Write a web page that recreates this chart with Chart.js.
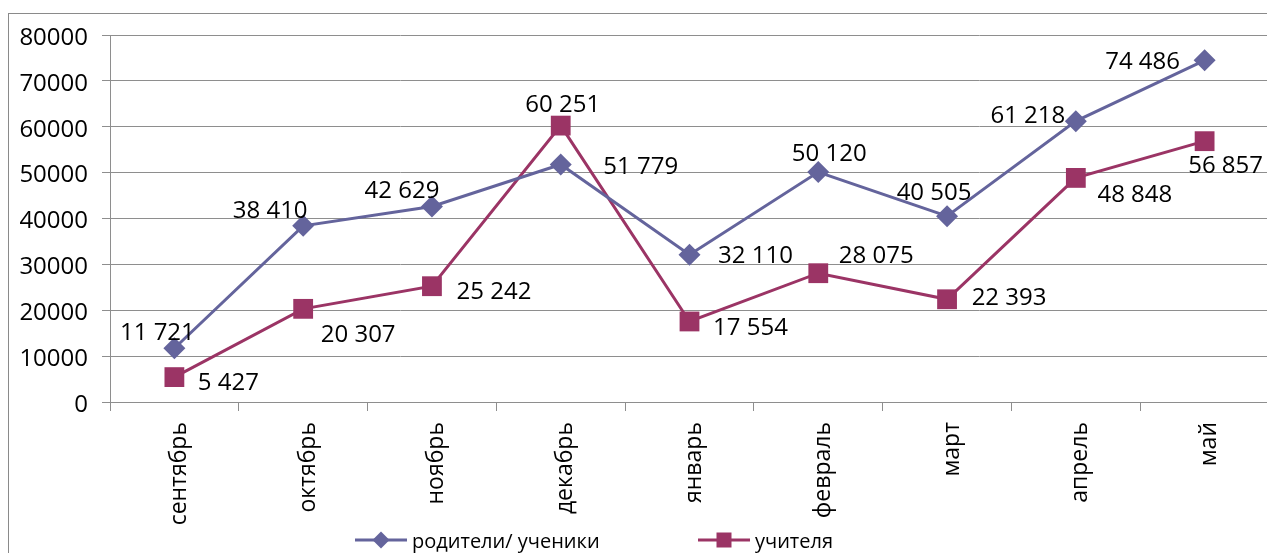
<!DOCTYPE html>
<html>
<head>
<meta charset="utf-8">
<script src="https://cdn.jsdelivr.net/npm/chart.js@4.4.1/dist/chart.umd.min.js"></script>
<style>
  html, body { margin: 0; padding: 0; background: #fff; overflow: hidden; width: 1267px; height: 553px; }
  #frame { position: absolute; left: 8px; top: 13px; width: 1400px; height: 700px; border-left: 1px solid #8a8a8a; border-top: 1px solid #8a8a8a; }
  #wrap { position: absolute; left: 0; top: 0; width: 1290px; height: 553px; }
  .leg { position: absolute; top: 526px; height: 28px; display: flex; align-items: center; font-family: "Open Sans", sans-serif; font-size: 20px; color: #000; white-space: nowrap; }
  .leg svg { margin-right: 5px; }
</style>
</head>
<body>
<div id="frame"></div>
<div id="wrap"><canvas id="c" width="1290" height="553" style="width:1290px;height:553px"></canvas></div>
<div class="leg" id="leg1" style="left:355px"></div>
<div class="leg" id="leg2" style="left:698px"></div>
<script>
const categories = ['сентябрь','октябрь','ноябрь','декабрь','январь','февраль','март','апрель','май'];
const parentsStudents = [11721, 38410, 42629, 51779, 32110, 50120, 40505, 61218, 74486];
const teachers = [5427, 20307, 25242, 60251, 17554, 28075, 22393, 48848, 56857];
const seriesNames = ['родители/ ученики', 'учителя'];
const yTicks = [0, 10000, 20000, 30000, 40000, 50000, 60000, 70000, 80000];

// label offsets (px) relative to each point
const labelOffsets1 = [[-17,-17],[-33,-17],[-30,-17],[80,1],[66,-1],[11,-20],[-13,-25],[-48,-7],[-62,0]];
const labelOffsets2 = [[54,4],[55,24],[62,4],[2,-22],[61,5],[58,-19],[62,-3],[59,15],[21,23]];

const C1 = '#64649c';
const C2 = '#9b3465';
const GRID = '#8e8e8e';
const FONT = '"Open Sans", sans-serif';

function fmt(v){ return String(v).replace(/\B(?=(\d{3})+(?!\d))/g, ' '); }

const dataLabels = {
  id: 'dataLabels',
  afterDatasetsDraw(chart) {
    const ctx = chart.ctx;
    const offs = [labelOffsets1, labelOffsets2];
    ctx.save();
    ctx.font = '24px ' + FONT;
    ctx.fillStyle = '#000';
    ctx.textAlign = 'center';
    ctx.textBaseline = 'middle';
    chart.data.datasets.forEach((ds, i) => {
      const meta = chart.getDatasetMeta(i);
      meta.data.forEach((pt, j) => {
        const o = offs[i][j];
        ctx.fillText(fmt(ds.data[j]), pt.x + o[0], pt.y + o[1] + 2);
      });
    });
    ctx.restore();
  }
};

new Chart(document.getElementById('c'), {
  type: 'line',
  data: {
    labels: categories,
    datasets: [
      { label: seriesNames[0], data: parentsStudents, borderColor: C1, backgroundColor: C1,
        borderWidth: 3, pointStyle: 'rectRot', pointRadius: 11, pointBorderWidth: 0, tension: 0 },
      { label: seriesNames[1], data: teachers, borderColor: C2, backgroundColor: C2,
        borderWidth: 3, pointStyle: 'rect', pointRadius: 14, pointBorderWidth: 0, tension: 0 }
    ]
  },
  options: {
    responsive: false,
    devicePixelRatio: 1,
    animation: false,
    events: [],
    layout: { padding: { top: 35, right: 21, bottom: 0, left: 0 } },
    plugins: { legend: { display: false }, tooltip: { enabled: false } },
    scales: {
      x: {
        offset: true,
        grid: { offset: true, drawOnChartArea: false, drawTicks: true, tickLength: 9, color: GRID, tickColor: GRID },
        border: { display: true, color: GRID, width: 1 },
        ticks: { autoSkip: false, minRotation: 90, maxRotation: 90, padding: 11, labelOffset: 5,
                 color: '#000', font: { family: FONT, size: 23 } },
        afterFit(s) { s.height = 151; }
      },
      y: {
        min: 0, max: 80000,
        afterBuildTicks(s) { s.ticks = yTicks.map(v => ({ value: v })); },
        grid: { color: GRID, tickLength: 8, tickColor: GRID, lineWidth: 1 },
        border: { display: true, color: GRID, width: 1 },
        ticks: { padding: 14, labelOffset: 3, color: '#000', font: { family: FONT, size: 24 },
                 callback: v => String(v) },
        afterFit(s) { s.width = 110; }
      }
    }
  },
  plugins: [dataLabels]
});

function legendItem(el, color, marker, text) {
  const m = marker === 'diamond'
    ? `<polygon points="26,1.5 34.5,10 26,18.5 17.5,10" fill="${color}"/>`
    : `<rect x="18.5" y="2.5" width="15" height="15" fill="${color}"/>`;
  el.innerHTML = `<svg width="52" height="20" viewBox="0 0 52 20"><line x1="0" y1="10" x2="52" y2="10" stroke="${color}" stroke-width="3"/>${m}</svg><span></span>`;
  el.querySelector('span').textContent = text;
}
legendItem(document.getElementById('leg1'), C1, 'diamond', seriesNames[0]);
legendItem(document.getElementById('leg2'), C2, 'square', seriesNames[1]);
</script>
</body>
</html>
